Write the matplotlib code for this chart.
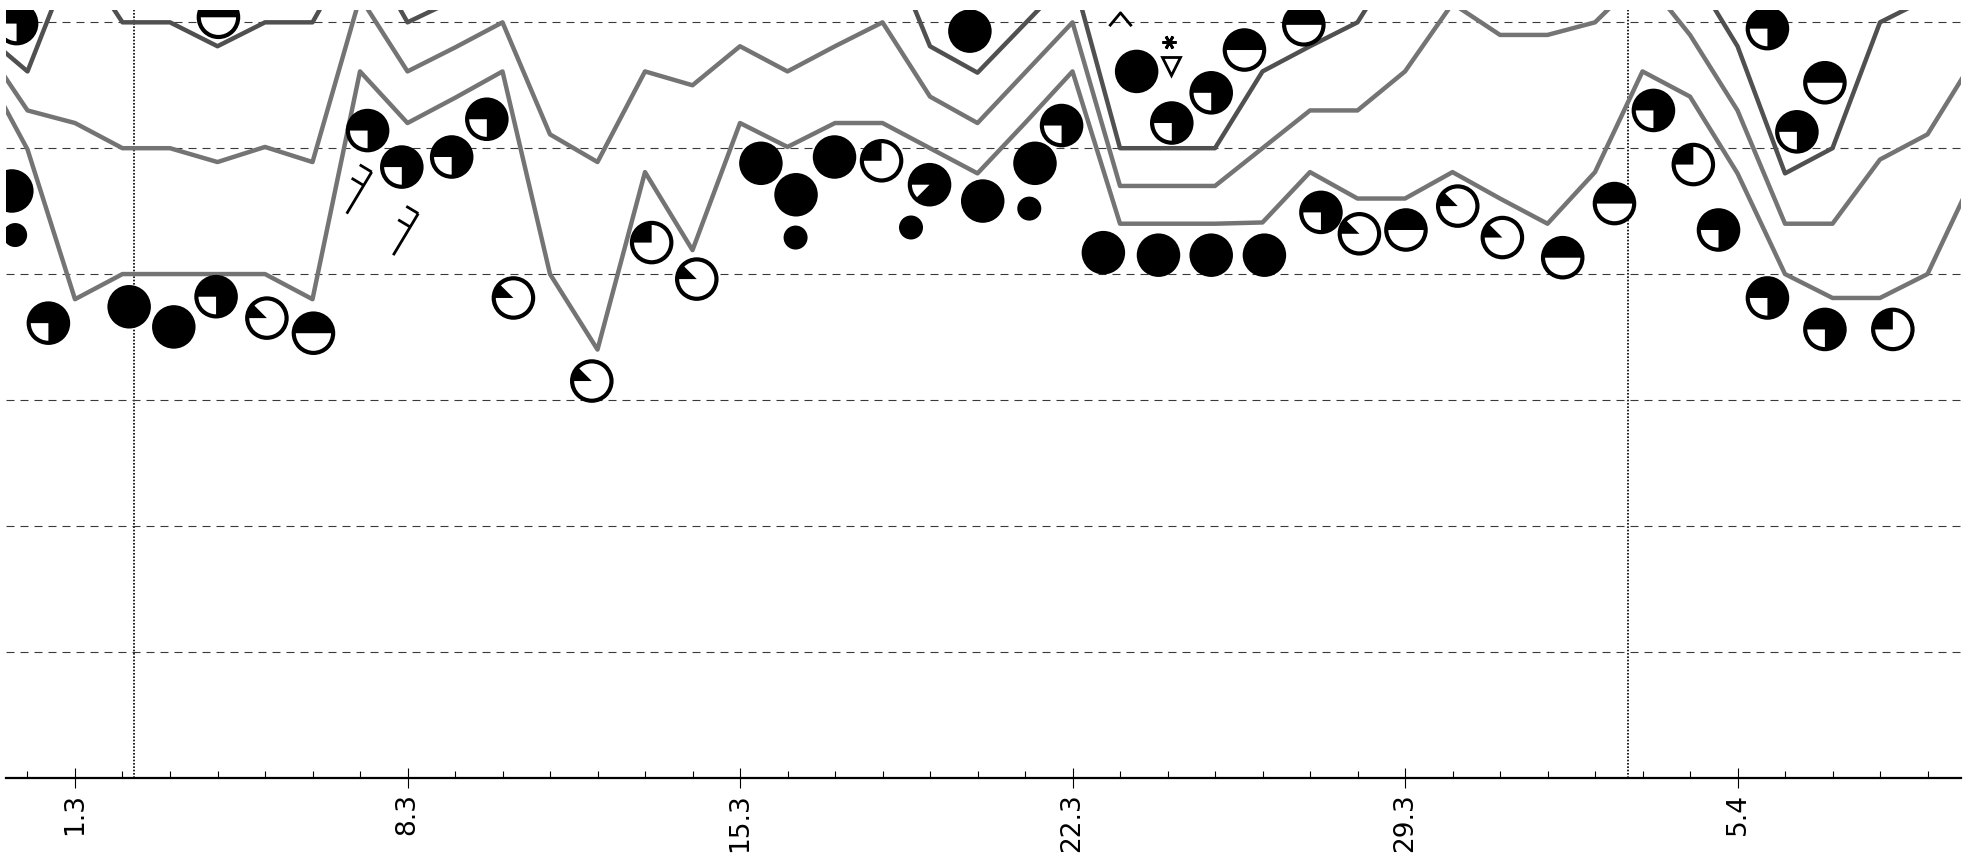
import numpy as np
import matplotlib
matplotlib.use('Agg')
import matplotlib.pyplot as plt
from matplotlib.patches import Circle, Wedge
from matplotlib.path import Path
from matplotlib.transforms import ScaledTranslation

# days counted from 1 March (1.3 -> 1, 5.4 -> 36)
days = np.arange(-1, 42)

# envelope lines, one value per day
lower = [5.69, 4.99, 3.80, 4.0, 4.0, 4.0, 4.0, 3.80, 5.61, 5.20, 5.40, 5.61, 4.0, 3.40,
         4.81, 4.19, 5.20, 5.01, 5.20, 5.20, 5.0, 4.80, 5.2, 5.61, 4.40, 4.40, 4.40, 4.41,
         4.81, 4.60, 4.60, 4.81, 4.6, 4.40, 4.81, 5.61, 5.41, 4.80, 4.0, 3.81, 3.81, 4.0, 4.8]
middle = [5.86, 5.30, 5.20, 5.0, 5.0, 4.89, 5.01, 4.89, 6.2, 5.61, 5.80, 6.0, 5.11, 4.89,
          5.61, 5.50, 5.81, 5.61, 5.81, 6.0, 5.41, 5.20, 5.6, 6.0, 4.70, 4.70, 4.70, 5.0,
          5.30, 5.30, 5.61, 6.15, 5.90, 5.90, 6.0, 6.37, 5.9, 5.30, 4.40, 4.40, 4.91, 5.11, 5.72]
upper = [5.93, 5.61, 6.57, 6.0, 6.0, 5.81, 6.0, 6.0, 6.67, 6.0, 6.18, 6.6, 6.8, 6.7,
         6.9, 6.8, 7.0, 6.9, 6.9, 6.73, 5.81, 5.60, 5.99, 6.38, 5.0, 5.0, 5.0, 5.61,
         5.81, 6.0, 6.6, 6.8, 6.8, 6.9, 6.9, 6.8, 6.43, 5.81, 4.80, 5.0, 6.0, 6.19, 6.6]

# cloud cover observations (octas)
obs_x = [-0.23, -0.33, 0.44, 2.14, 3.08, 3.97, 4.02, 5.04, 6.02, 7.16, 7.88, 8.93, 9.67,
         10.23, 11.88, 13.14, 14.09, 15.44, 16.18, 16.99, 17.98, 18.99, 19.84, 20.11,
         21.21, 21.77, 22.65, 23.35, 23.81, 24.09, 24.92, 24.92, 25.62, 26.04, 26.87,
         27.23, 28.04, 29.02, 30.11, 31.05, 32.32, 33.41, 34.23, 35.07, 35.60, 36.63,
         36.63, 37.25, 37.84, 37.84, 39.27]
obs_y = [5.99, 4.66, 3.61, 3.74, 3.58, 3.82, 6.04, 3.65, 3.53, 5.14, 4.85, 4.93, 5.23,
         3.81, 3.15, 4.25, 3.96, 4.88, 4.63, 4.93, 4.90, 4.71, 5.93, 4.58,
         4.88, 5.18, 4.17, 5.61, 4.15, 5.20, 5.44, 4.15, 5.78, 4.15, 5.98,
         4.49, 4.32, 4.35, 4.54, 4.29, 4.13, 4.56, 5.30, 4.87, 4.35, 5.95,
         3.81, 5.13, 5.52, 3.56, 3.56]
obs_octas = [6, 8, 6, 8, 8, 6, 4, 1, 4, 6, 6, 6, 6,
             1, 1, 2, 1, 8, 8, 8, 2, 7, 8, 8,
             8, 6, 8, 8, 8, 6, 6, 8, 4, 8, 4,
             6, 1, 4, 1, 1, 4, 4, 6, 2, 6, 6,
             6, 6, 4, 6, 2]

# rain dots
rain_x = [-0.26, 16.17, 18.60, 21.09]
rain_y = [4.31, 4.29, 4.37, 4.52]

# wind barbs (foot of the staff), direction of staff in degrees, number of ticks
barb_x = [6.72, 7.70]
barb_y = [4.48, 4.15]
barb_dir = [59, 59]
barb_ticks = [2, 2]

# other weather signs
snow_x, snow_y = [24.03], [5.84]
shower_x, shower_y = [24.07], [5.65]
caret_x, caret_y = [23.0], [6.03]

marker_days = [2.25, 33.69]
major_days = [1, 8, 15, 22, 29, 36]
major_labels = ['1.3', '8.3', '15.3', '22.3', '29.3', '5.4']

W, H = 1973, 861
fig = plt.figure(figsize=(W / 100, H / 100), dpi=100)
ax = fig.add_axes([6 / W, 83.5 / H, 1955 / W, 767.5 / H])
ax.set_xlim(-0.4526, 40.705)
ax.set_ylim(0, 6.098)

ax.plot(days, lower, color='#747474', lw=3.2, zorder=2)
ax.plot(days, middle, color='#747474', lw=3.2, zorder=2)
ax.plot(days, upper, color='#505050', lw=3.2, zorder=2)

# grid and markers
ax.set_yticks(range(1, 7))
ax.yaxis.grid(True, color='#3a3a3a', lw=0.8, linestyle=(0, (7.2, 5.4)))
ax.tick_params(axis='y', length=0, labelleft=False)
for d in marker_days:
    ax.axvline(d, color='black', lw=1.2, linestyle=(0, (1, 1)), zorder=1)

R_OUT = 0.2175   # inches
R_IN = 0.197


def station_trans(x, y):
    return fig.dpi_scale_trans + ScaledTranslation(x, y, ax.transData)


for x, y, n in zip(obs_x, obs_y, obs_octas):
    tr = station_trans(x, y)
    if n == 8:
        ax.add_patch(Circle((0, 0), R_OUT, transform=tr, fc='black', ec='none', zorder=5))
    else:
        ax.add_patch(Circle((0, 0), R_IN, transform=tr, fc='white', ec='black', lw=3, zorder=5))
        if n > 0:
            ax.add_patch(Wedge((0, 0), R_IN, 180 - n * 45, 180, transform=tr,
                               fc='black', ec='none', zorder=6))

for x, y in zip(rain_x, rain_y):
    ax.add_patch(Circle((0, 0), 0.12, transform=station_trans(x, y), fc='black', ec='none', zorder=5))

# wind barbs
staff, tick_len, tick_gap = 0.486, 0.14, 0.157
for x, y, a, n in zip(barb_x, barb_y, barb_dir, barb_ticks):
    tr = station_trans(x, y)
    ra = np.radians(a)
    u = np.array([np.cos(ra), np.sin(ra)])
    p = np.array([-np.sin(ra), np.cos(ra)])
    tip = staff * u
    ax.plot([0, tip[0]], [0, tip[1]], color='black', lw=2, transform=tr, zorder=6,
            solid_capstyle='butt')
    for k in range(n):
        base = tip - k * tick_gap * u
        end = base + tick_len * p
        ax.plot([base[0], end[0]], [base[1], end[1]], color='black', lw=2, transform=tr,
                zorder=6, solid_capstyle='butt')

ax.plot(snow_x, snow_y, marker=(6, 2, 90), color='black', ms=10, mew=2, ls='none', zorder=6)
ax.plot(shower_x, shower_y, marker='v', mfc='white', mec='black', ms=13, mew=2, ls='none', zorder=6)
caret = Path([(-1, -0.6), (0, 0.6), (1, -0.6)], [Path.MOVETO, Path.LINETO, Path.LINETO])
ax.plot(caret_x, caret_y, marker=caret, ms=16, mew=2, color='black', fillstyle='none',
        ls='none', zorder=6)

# axis
for s in ['left', 'right', 'top']:
    ax.spines[s].set_visible(False)
ax.spines['bottom'].set_linewidth(1.6)
ax.set_xticks(major_days)
ax.set_xticklabels(major_labels, rotation=90, fontsize=19, family='DejaVu Sans')
ax.set_xticks(np.arange(0, 41), minor=True)
ax.tick_params(axis='x', which='major', direction='inout', length=14, width=0.8, pad=4)
ax.tick_params(axis='x', which='minor', direction='in', length=5, width=0.8)

fig.savefig('out.png', dpi=100)
